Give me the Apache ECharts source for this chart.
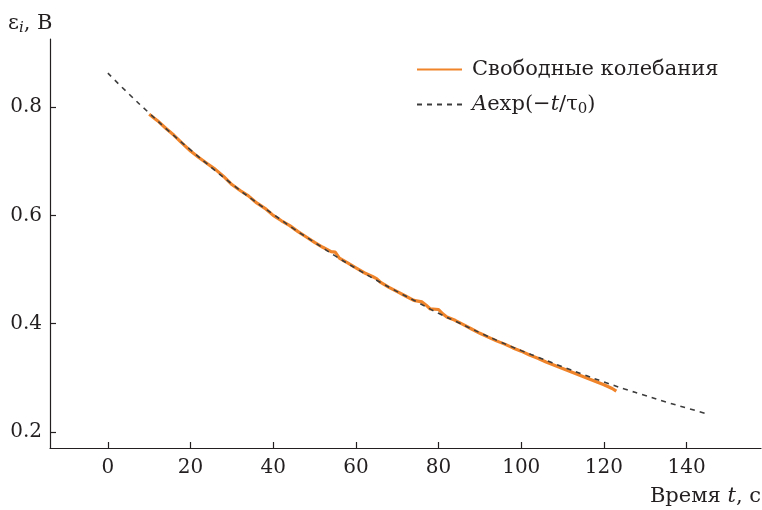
<!doctype html>
<html lang="ru">
<head>
    <meta charset="UTF-8">
    <title>Свободные колебания</title>
    <script type="text/javascript" src="https://cdn.jsdelivr.net/npm/echarts@6/dist/echarts.min.js"></script>
    <style>
        html, body { margin: 0; padding: 0; background: #fff; }
    </style>
</head>
<body>
    <div id="main" style="width: 762px;height:510px;"></div>
</body>
<script type="text/javascript">
    // измеренные значения (свободные колебания)
    var freeT = [10, 12, 14, 16, 18, 20, 22, 24, 26, 28, 30, 32, 34, 36, 38, 40, 42, 44, 46, 48,
        50, 52, 54, 55, 56, 58, 60, 62, 64, 65, 66, 68, 70, 72, 74, 76, 77, 78, 80, 81,
        82, 84, 86, 88, 90, 92, 94, 96, 98, 100, 102, 104, 106, 108, 110, 112, 114, 116, 118, 120,
        122, 123];
    var freeV = [0.787, 0.775, 0.761, 0.748, 0.733, 0.719, 0.707, 0.696, 0.685, 0.672, 0.657, 0.646, 0.636, 0.623, 0.613, 0.600, 0.590, 0.581, 0.570, 0.560,
        0.550, 0.541, 0.533, 0.532, 0.521, 0.512, 0.503, 0.494, 0.487, 0.483, 0.476, 0.467, 0.459, 0.451, 0.443, 0.440, 0.434, 0.427, 0.426, 0.418,
        0.412, 0.406, 0.398, 0.390, 0.382, 0.375, 0.368, 0.362, 0.355, 0.349, 0.342, 0.336, 0.329, 0.323, 0.317, 0.311, 0.305, 0.299, 0.293, 0.287,
        0.280, 0.275];

    // аппроксимация A*exp(-t/tau0), значения
    var fitT = [0, 5, 10, 15, 20, 25, 30, 35, 40, 45, 50, 55, 60, 65, 70, 75, 80, 85, 90, 95,
        100, 105, 110, 115, 120, 125, 130, 135, 140, 145];
    var fitV = [0.863, 0.825, 0.789, 0.754, 0.721, 0.689, 0.658, 0.629, 0.602, 0.575, 0.550, 0.525, 0.502, 0.480, 0.459, 0.439, 0.419, 0.401, 0.383, 0.366,
        0.350, 0.335, 0.320, 0.306, 0.292, 0.279, 0.267, 0.255, 0.244, 0.233];

    var xTicks = [0, 20, 40, 60, 80, 100, 120, 140];
    var yTicks = [0.2, 0.4, 0.6, 0.8];

    function pairs(xs, ys) {
        var out = [];
        for (var i = 0; i < xs.length; i++) {
            out.push([xs[i], ys[i]]);
        }
        return out;
    }

    var FONT = 'DejaVu Serif';
    var INK = '#231f20';

    var myChart = echarts.init(document.getElementById('main'));
    myChart.setOption({
        animation: false,
        backgroundColor: '#fff',
        textStyle: { fontFamily: FONT, color: INK },
        grid: { left: 50, right: 1, top: 39, bottom: 62, containLabel: false },
        legend: {
            orient: 'vertical',
            left: 411,
            top: 54,
            itemWidth: 45,
            itemHeight: 14,
            itemGap: 14,
            itemStyle: { opacity: 0 },
            textStyle: {
                fontFamily: FONT, fontSize: 21, color: INK, padding: [0, 0, 0, 5],
                rich: {
                    n: { fontFamily: FONT, fontSize: 21, color: INK },
                    i: { fontFamily: FONT, fontSize: 21, color: INK, fontStyle: 'italic' },
                    s: { fontFamily: FONT, fontSize: 15, color: INK, padding: [10, 0, 0, 0] }
                }
            },
            formatter: function (name) {
                if (name === 'fit') {
                    return '{i|A}{n|exp(\u2212}{i|t}{n|/\u03c4}{s|0}{n|)}';
                }
                return name;
            },
            data: ['Свободные колебания', 'fit']
        },
        xAxis: {
            type: 'value',
            min: -14,
            max: 158,
            splitLine: { show: false },
            axisLine: { onZero: false, lineStyle: { color: INK, width: 1.2 } },
            axisTick: { inside: true, length: 6, customValues: xTicks, lineStyle: { color: INK, width: 1.2 } },
            axisLabel: { customValues: xTicks, margin: 10, fontFamily: FONT, fontSize: 20, color: INK }
        },
        yAxis: {
            type: 'value',
            min: 0.17,
            max: 0.926,
            splitLine: { show: false },
            axisLine: { onZero: false, lineStyle: { color: INK, width: 1.2 } },
            axisTick: { inside: true, length: 6, customValues: yTicks, lineStyle: { color: INK, width: 1.2 } },
            axisLabel: {
                customValues: yTicks, margin: 8, fontFamily: FONT, fontSize: 20, color: INK,
                formatter: function (v) { return v.toFixed(1); }
            }
        },
        graphic: [
            {
                type: 'text', left: 8, top: 13,
                style: {
                    text: '{n|\u03b5}{s|i}{n|, B}',
                    rich: {
                        n: { fontFamily: FONT, fontSize: 21, fill: INK },
                        s: { fontFamily: FONT, fontSize: 15, fill: INK, fontStyle: 'italic', padding: [10, 0, 0, 0] }
                    }
                }
            },
            {
                type: 'text', right: 1, top: 486,
                style: {
                    text: '{n|Время }{i|t}{n|, с}',
                    rich: {
                        n: { fontFamily: FONT, fontSize: 21, fill: INK },
                        i: { fontFamily: FONT, fontSize: 21, fill: INK, fontStyle: 'italic' }
                    }
                }
            }
        ],
        series: [
            {
                name: 'Свободные колебания',
                type: 'line',
                showSymbol: false,
                symbol: 'none',
                z: 2,
                data: pairs(freeT, freeV),
                lineStyle: { color: '#f0842a', width: 3.2 },
                itemStyle: { color: '#f0842a' }
            },
            {
                name: 'fit',
                type: 'line',
                showSymbol: false,
                symbol: 'none',
                smooth: true,
                z: 3,
                data: pairs(fitT, fitV),
                lineStyle: { color: '#3c3c3c', width: 1.6, type: [5, 5] },
                itemStyle: { color: '#3c3c3c' }
            }
        ]
    });
</script>
</html>
